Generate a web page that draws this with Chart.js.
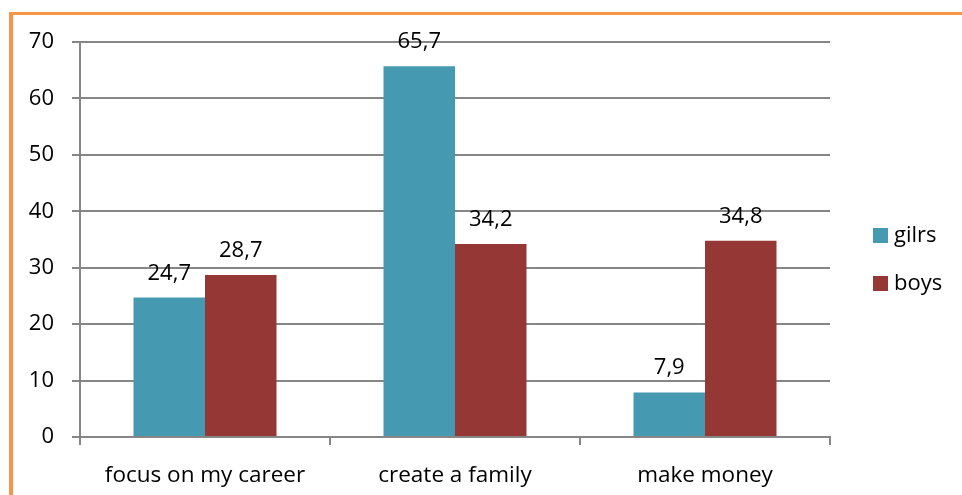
<!DOCTYPE html>
<html>
<head>
<meta charset="utf-8">
<script src="https://cdn.jsdelivr.net/npm/chart.js@4.4.1/dist/chart.umd.min.js"></script>
<style>
  html, body { margin: 0; padding: 0; background: #fff; }
  #wrap { position: relative; width: 962px; height: 495px; overflow: hidden; }
  #frame {
    position: absolute; left: 9px; top: 12px; width: 1000px; height: 600px;
    border-top: 3px solid #F79646; border-left: 4px solid #F79646;
  }
  #chart { position: absolute; left: 0; top: 0; }
</style>
</head>
<body>
<div id="wrap">
  <div id="frame"></div>
  <canvas id="chart" width="962" height="495"></canvas>
</div>
<script>
  const categories = ["focus on my career", "create a family", "make money"];
  const girls = [24.7, 65.7, 7.9];
  const boys = [28.7, 34.2, 34.8];
  const seriesNames = ["gilrs", "boys"];
  const yTicks = [0, 10, 20, 30, 40, 50, 60, 70];

  const FONT = "'Open Sans', sans-serif";
  const FSIZE = 22;
  const GRID = "#868686";

  function fmt(v) {
    return String(v).replace(".", ",");
  }

  // value labels above each bar
  const valueLabels = {
    id: "valueLabels",
    afterDatasetsDraw(chart) {
      const ctx = chart.ctx;
      ctx.save();
      ctx.font = `${FSIZE}px ${FONT}`;
      ctx.fillStyle = "#000";
      ctx.textAlign = "center";
      ctx.textBaseline = "alphabetic";
      chart.data.datasets.forEach((ds, i) => {
        chart.getDatasetMeta(i).data.forEach((bar, j) => {
          ctx.fillText(fmt(ds.data[j]), bar.x, bar.y - 18);
        });
      });
      ctx.restore();
    },
  };

  // legend on the right, drawn by hand so spacing matches
  const sideLegend = {
    id: "sideLegend",
    afterDraw(chart) {
      const ctx = chart.ctx;
      const area = chart.chartArea;
      const x = area.right + 43;
      const mid = (area.top + area.bottom) / 2;
      ctx.save();
      ctx.font = `${FSIZE}px ${FONT}`;
      ctx.textBaseline = "middle";
      chart.data.datasets.forEach((ds, i) => {
        const cy = mid - 4 + i * 48;
        ctx.fillStyle = ds.backgroundColor;
        ctx.fillRect(x, cy - 7.5, 15, 15);
        ctx.fillStyle = "#000";
        ctx.fillText(ds.label, x + 21, cy);
      });
      ctx.restore();
    },
  };

  new Chart(document.getElementById("chart"), {
    type: "bar",
    data: {
      labels: categories,
      datasets: [
        { label: seriesNames[0], data: girls, backgroundColor: "#4599B1" },
        { label: seriesNames[1], data: boys, backgroundColor: "#953735" },
      ],
    },
    options: {
      responsive: false,
      animation: false,
      layout: { padding: { top: 42, right: 132, left: 0, bottom: 0 } },
      datasets: { bar: { categoryPercentage: 0.572, barPercentage: 1.0 } },
      plugins: {
        legend: { display: false },
        tooltip: { enabled: false },
      },
      scales: {
        x: {
          grid: { display: true, drawOnChartArea: false, color: GRID, lineWidth: 2, tickLength: 8, offset: true },
          border: { color: GRID, width: 2 },
          ticks: { color: "#000", font: { family: FONT, size: 22.5 }, padding: 17, maxRotation: 0 },
          afterFit(scale) { scale.height = 58; },
        },
        y: {
          min: 0,
          max: 70,
          afterBuildTicks(scale) { scale.ticks = yTicks.map((v) => ({ value: v })); },
          grid: { color: GRID, lineWidth: 2, tickLength: 8 },
          border: { color: GRID, width: 2 },
          ticks: { color: "#000", font: { family: FONT, size: FSIZE }, padding: 18 },
          afterFit(scale) { scale.width = 80; },
        },
      },
    },
    plugins: [valueLabels, sideLegend],
  });
</script>
</body>
</html>
